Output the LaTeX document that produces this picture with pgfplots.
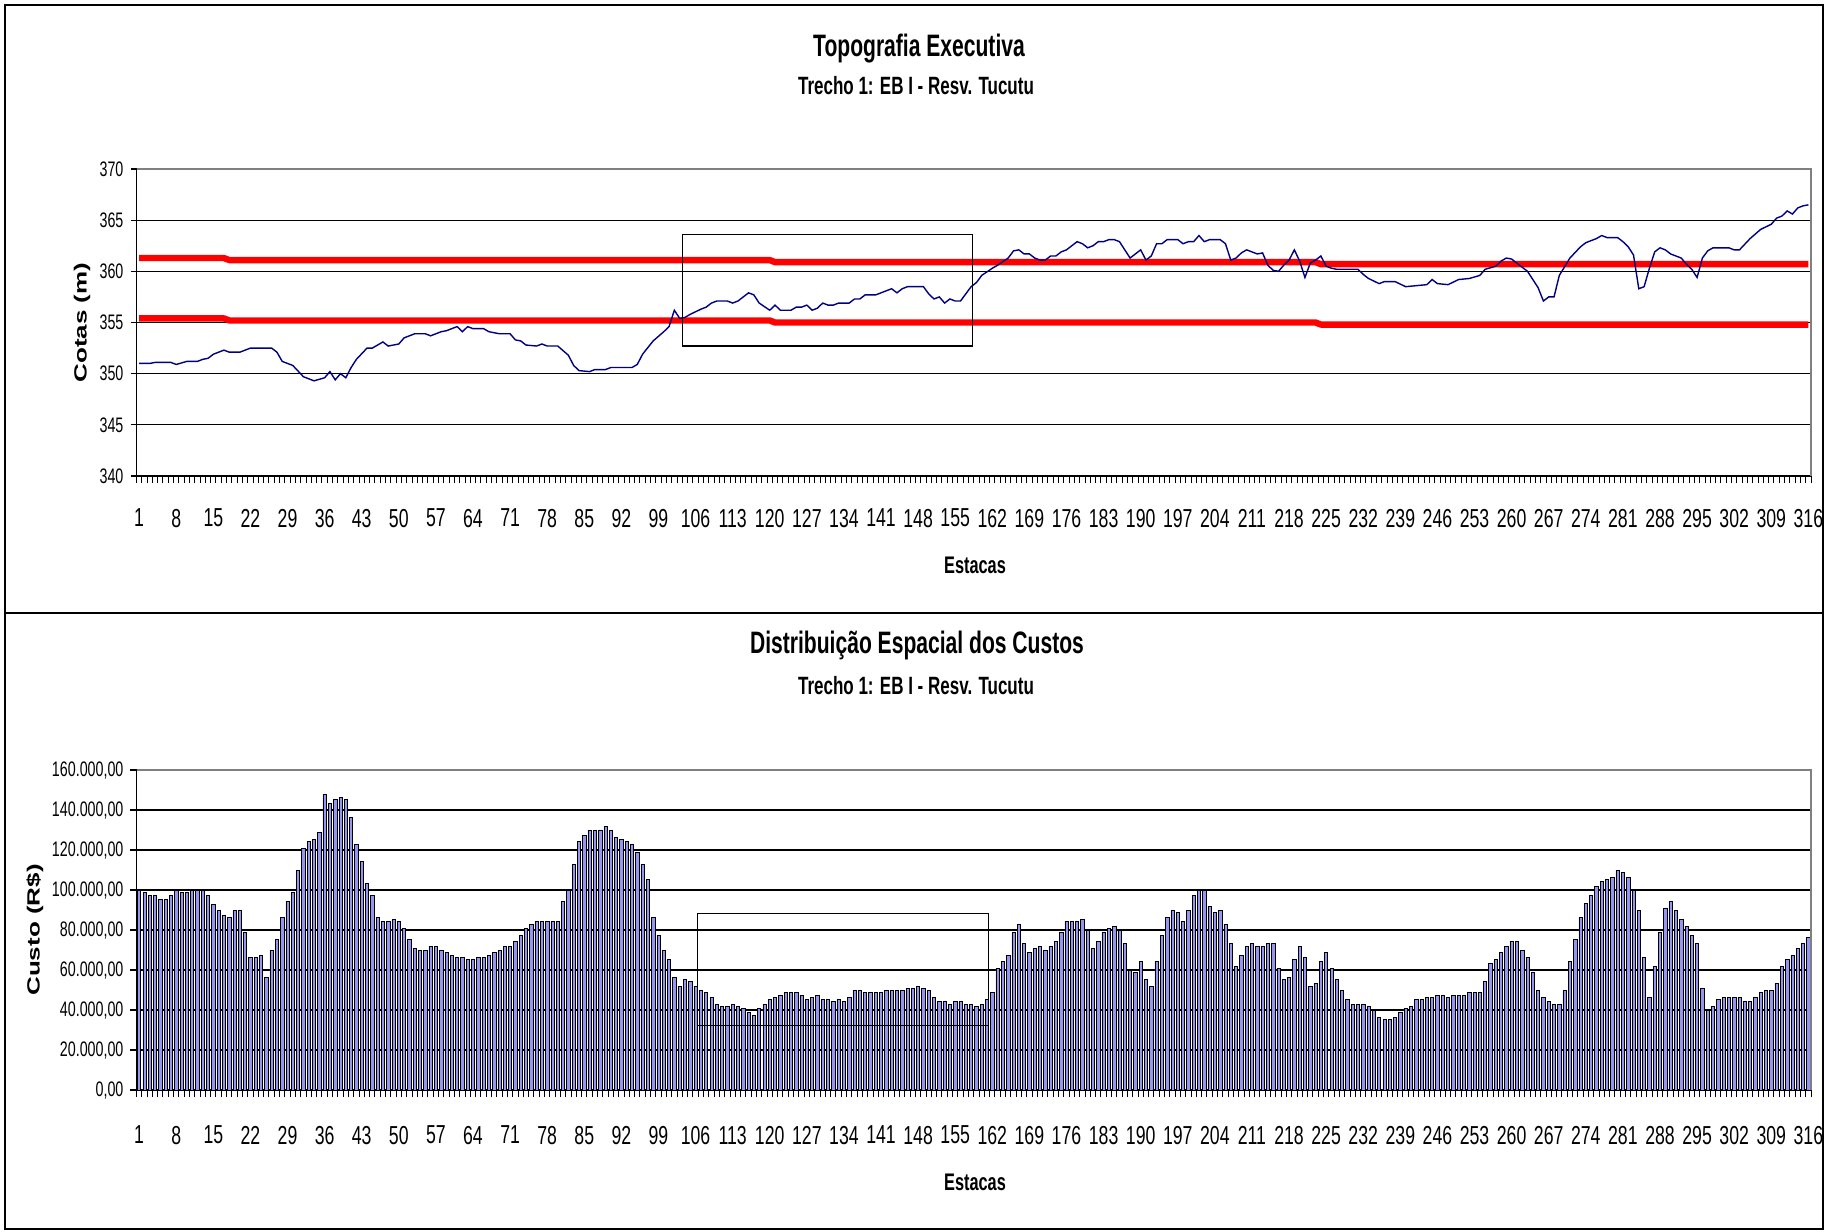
\documentclass[border=0pt]{standalone}
\usepackage{fontspec}
\setmainfont{Liberation Sans}[FakeStretch=0.68]
\newfontfamily\plainfont{Liberation Sans}
\usepackage{graphicx}
\usepackage{pgfplots}
\pgfplotsset{compat=1.18}
\definecolor{navyline}{RGB}{0,0,128}
\definecolor{barblue}{RGB}{150,150,240}
\definecolor{bordergray}{RGB}{128,128,128}
\pgfplotsset{
  chartbase/.style={
    scale only axis,
    width=837.25pt,
    xmin=0.5, xmax=316.5,
    axis lines*=left,
    axis line style={-, black, line width=0.7pt},
    tick align=outside,
    xtick={1,8,15,22,29,36,43,50,57,64,71,78,85,92,99,106,113,120,127,134,141,148,155,162,169,176,183,190,197,204,211,218,225,232,239,246,253,260,267,274,281,288,295,302,309,316},
    xticklabels={1,8,15,22,29,36,43,50,57,64,71,78,85,92,99,106,113,120,127,134,141,148,155,162,169,176,183,190,197,204,211,218,225,232,239,246,253,260,267,274,281,288,295,302,309,316},
    minor xtick={0.5,1.5,...,316.5},
    major x tick style={draw=none},
    minor x tick style={black, line width=0.5pt},
    minor tick length=3.5pt,
    major tick length=3pt,
    ytick style={black, line width=0.6pt},
    xticklabel style={font=\fontsize{13}{13}\selectfont, yshift=-10pt},
    yticklabel style={font=\fontsize{10.5}{10.5}\selectfont},
    ymajorgrids,
    grid style={black, line width=0.6pt},
    scaled y ticks=false,
    clip=false,
  }
}
\begin{document}
\begin{tikzpicture}
\useasboundingbox (0pt,0pt) rectangle (914.5pt,-615.5pt);
\draw[line width=0.8pt] (2.5pt,-2.5pt) rectangle (911.5pt,-306.5pt);
\draw[line width=0.8pt] (2.5pt,-306.5pt) rectangle (911.5pt,-614.5pt);

\node[font=\bfseries\fontsize{15.5}{16}\selectfont] at (459.5pt,-24.5pt) {Topografia Executiva};
\node[font=\bfseries\fontsize{12.5}{13}\selectfont] at (458pt,-43pt) {Trecho 1: EB I - Resv. Tucutu};
\node[font=\bfseries\fontsize{12}{12}\selectfont] at (487.5pt,-282.5pt) {Estacas};
\node[rotate=90] at (41pt,-161.25pt) {\scalebox{1}[0.68]{\plainfont\bfseries\fontsize{13}{13}\selectfont Cotas (m)}};

\node[font=\bfseries\fontsize{15.5}{16}\selectfont] at (458.5pt,-322.5pt) {Distribuição Espacial dos Custos};
\node[font=\bfseries\fontsize{12.5}{13}\selectfont] at (458pt,-343pt) {Trecho 1: EB I - Resv. Tucutu};
\node[font=\bfseries\fontsize{12}{12}\selectfont] at (487.5pt,-591pt) {Estacas};
\node[rotate=90] at (17.5pt,-465pt) {\scalebox{1}[0.68]{\plainfont\bfseries\fontsize{13}{13}\selectfont Custo (R\$)}};

\begin{axis}[chartbase,
  at={(68.25pt,-238pt)}, anchor=south west,
  height=153.5pt,
  ymin=340, ymax=370,
  ytick={340,345,350,355,360,365,370},
  yticklabels={340,345,350,355,360,365,370},
]
\addplot[red, line width=3.2pt, line join=round] coordinates {
(1,361.3) (17,361.3) (18,361.1) (120,361.1) (121,360.9) (223,360.9) (224,360.7) (316,360.7)};
\addplot[red, line width=3.2pt, line join=round] coordinates {
(1,355.4) (17,355.4) (18,355.2) (120,355.2) (121,355.0) (223,355.0) (224,354.8) (316,354.8)};
\addplot[navyline, line width=0.7pt, mark=none] coordinates {
(1,351.0) (3,351.0) (4,351.1) (7,351.1) (8,350.9) (10,351.2) (12,351.2) (13,351.4) (14,351.5)
(15,351.9) (17,352.3) (18,352.1) (20,352.1) (22,352.5) (26,352.5) (27,352.1) (28,351.2)
(30,350.8) (32,349.7) (34,349.3) (36,349.6) (37,350.2) (38,349.4) (39,350.0) (40,349.6)
(41,350.6) (42,351.4) (44,352.5) (45,352.5) (47,353.1) (48,352.7) (50,352.9) (51,353.5)
(53,353.9) (55,353.9) (56,353.7) (58,354.1) (59,354.2) (61,354.6) (62,354.1) (63,354.6)
(64,354.4) (66,354.4) (67,354.1) (69,353.9) (71,353.9) (72,353.3) (73,353.2) (74,352.8)
(76,352.7) (77,352.9) (78,352.7) (80,352.7) (82,351.8) (83,350.8) (84,350.3) (86,350.2)
(87,350.4) (89,350.4) (90,350.6) (94,350.6) (95,350.9) (96,351.9) (98,353.2) (100,354.1)
(101,354.6) (102,356.2) (103,355.4) (104,355.5) (105,355.8) (107,356.3) (108,356.5)
(109,356.9) (110,357.1) (112,357.1) (113,356.9) (114,357.1) (116,357.9) (117,357.7)
(118,356.9) (120,356.2) (121,356.7) (122,356.2) (124,356.2) (125,356.5) (126,356.5)
(127,356.7) (128,356.2) (129,356.4) (130,356.9) (131,356.7) (132,356.7) (133,356.9)
(135,356.9) (136,357.3) (137,357.3) (138,357.7) (140,357.7) (142,358.1) (143,358.3)
(144,357.9) (145,358.3) (146,358.5) (149,358.5) (150,357.8) (151,357.3) (152,357.5)
(153,356.9) (154,357.3) (155,357.1) (156,357.1) (157,357.8) (158,358.5) (159,358.9)
(160,359.6) (162,360.3) (163,360.6) (165,361.3) (166,362.0) (167,362.1) (168,361.7)
(169,361.7) (170,361.3) (171,361.1) (172,361.1) (173,361.5) (174,361.5) (175,361.9)
(176,362.1) (178,362.9) (179,362.7) (180,362.3) (181,362.5) (182,362.9) (183,362.9)
(184,363.1) (185,363.1) (186,362.9) (188,361.3) (190,362.1) (191,361.1) (192,361.5)
(193,362.7) (194,362.7) (195,363.1) (197,363.1) (198,362.7) (199,362.9) (200,362.9)
(201,363.5) (202,362.9) (203,363.1) (205,363.1) (206,362.7) (207,361.1) (208,361.3)
(209,361.8) (210,362.1) (211,361.9) (212,361.7) (213,361.8) (214,360.6) (215,360.1)
(216,360.0) (217,360.6) (218,361.1) (219,362.1) (220,361.0) (221,359.4) (222,360.8)
(223,361.1) (224,361.5) (225,360.5) (226,360.3) (227,360.2) (231,360.2) (232,359.7)
(233,359.3) (235,358.8) (236,359.0) (238,359.0) (240,358.5) (242,358.6) (244,358.7)
(245,359.2) (246,358.8) (248,358.7) (250,359.2) (252,359.3) (254,359.6) (255,360.2)
(257,360.5) (258,361.0) (259,361.3) (260,361.2) (262,360.4) (263,360.0) (265,358.4)
(266,357.1) (267,357.5) (268,357.5) (269,359.6) (271,361.3) (273,362.4) (274,362.8)
(276,363.2) (277,363.5) (278,363.3) (280,363.3) (281,362.9) (282,362.4) (283,361.6)
(284,358.3) (285,358.5) (286,360.3) (287,361.9) (288,362.3) (289,362.1) (290,361.7)
(292,361.3) (293,360.7) (294,360.2) (295,359.4) (296,361.3) (297,362.0) (298,362.3)
(301,362.3) (302,362.1) (303,362.1) (305,363.2) (307,364.1) (309,364.6) (310,365.2)
(311,365.4) (312,365.9) (313,365.6) (314,366.2) (315,366.4) (316,366.5)};
\draw[black, line width=0.7pt] (axis cs:103.5,363.6) rectangle (axis cs:158.3,352.7);
\draw[bordergray, line width=0.8pt] (rel axis cs:0,1) -- (rel axis cs:1,1) -- (rel axis cs:1,0);
\end{axis}

\begin{axis}[chartbase,
  at={(68.25pt,-545pt)}, anchor=south west,
  height=160pt,
  ymin=0, ymax=160000,
  ytick={0,20000,40000,60000,80000,100000,120000,140000,160000},
  yticklabels={{0,00},{20.000,00},{40.000,00},{60.000,00},{80.000,00},{100.000,00},{120.000,00},{140.000,00},{160.000,00}},
  xticklabel style={yshift=-1.5pt},
]
\addplot[ybar, bar width=0.62, fill=barblue, draw=black, line width=0.3pt] coordinates {
(1,99800) (2,98700) (3,97500) (4,97500) (5,95300) (6,95300) (7,97500) (8,99800) (9,98700) (10,98700)
(11,99800) (12,99800) (13,99800) (14,97500) (15,93000) (16,89700) (17,87500) (18,86500) (19,89700) (20,89700)
(21,78700) (22,66300) (23,66300) (24,67500) (25,56500) (26,69800) (27,75300) (28,86500) (29,94200) (30,98700)
(31,109800) (32,120800) (33,124300) (34,125300) (35,128700) (36,147700) (37,143200) (38,145300) (39,146300) (40,145300)
(41,136500) (42,123000) (43,114200) (44,103200) (45,97500) (46,86500) (47,84200) (48,84200) (49,85300) (50,84200)
(51,80800) (52,75300) (53,70800) (54,69800) (55,69800) (56,72000) (57,72000) (58,69800) (59,68700) (60,67500)
(61,66300) (62,66300) (63,65300) (64,65300) (65,66300) (66,66300) (67,67500) (68,68700) (69,69800) (70,72000)
(71,72000) (72,74200) (73,77500) (74,80800) (75,83000) (76,84200) (77,84200) (78,84200) (79,84200) (80,84200)
(81,94200) (82,99800) (83,113000) (84,124200) (85,127500) (86,129800) (87,129800) (88,129800) (89,132000) (90,129800)
(91,126500) (92,125300) (93,124200) (94,123000) (95,118700) (96,113000) (97,105300) (98,86500) (99,77500) (100,69800)
(101,65300) (102,56500) (103,52000) (104,55300) (105,54200) (106,52000) (107,49800) (108,48700) (109,46300) (110,43000)
(111,42000) (112,42000) (113,43000) (114,42000) (115,40800) (116,38700) (117,37500) (118,40800) (119,43000) (120,45300)
(121,46300) (122,47500) (123,48700) (124,48700) (125,48700) (126,47500) (127,45300) (128,46300) (129,47500) (130,45300)
(131,45300) (132,44200) (133,45300) (134,44200) (135,46300) (136,49800) (137,49800) (138,48700) (139,48700) (140,48700)
(141,48700) (142,49800) (143,49800) (144,49800) (145,49800) (146,50800) (147,50800) (148,52000) (149,50800) (150,49800)
(151,46300) (152,44200) (153,44200) (154,43000) (155,44200) (156,44200) (157,43000) (158,43000) (159,42000) (160,43000)
(161,45300) (162,48700) (163,60800) (164,64200) (165,67500) (166,78700) (167,83000) (168,73200) (169,68700) (170,70800)
(171,72000) (172,69800) (173,72000) (174,74200) (175,78700) (176,84200) (177,84200) (178,84200) (179,85300) (180,79700)
(181,70800) (182,74200) (183,78700) (184,80800) (185,82000) (186,79700) (187,73200) (188,59800) (189,58700) (190,64200)
(191,55300) (192,52000) (193,64200) (194,77500) (195,86500) (196,89700) (197,88700) (198,84200) (199,89700) (200,97500)
(201,99800) (202,99800) (203,92000) (204,88700) (205,89700) (206,83000) (207,73200) (208,62000) (209,67500) (210,72000)
(211,73200) (212,72000) (213,72000) (214,73200) (215,73200) (216,60800) (217,55300) (218,56500) (219,65300) (220,72000)
(221,66500) (222,52000) (223,53200) (224,64200) (225,68700) (226,60800) (227,55300) (228,49800) (229,45300) (230,43000)
(231,43000) (232,43000) (233,42000) (234,40000) (235,36500) (236,35300) (237,35300) (238,36500) (239,38700) (240,40800)
(241,42000) (242,45300) (243,45300) (244,46300) (245,46300) (246,47500) (247,47500) (248,46300) (249,47500) (250,47500)
(251,47500) (252,48700) (253,48700) (254,48700) (255,54200) (256,63200) (257,65300) (258,68700) (259,72000) (260,74200)
(261,74200) (262,69800) (263,66500) (264,58700) (265,49800) (266,46300) (267,44200) (268,43000) (269,43000) (270,49800)
(271,64200) (272,75300) (273,86500) (274,93200) (275,97500) (276,102000) (277,104200) (278,105300) (279,106300) (280,109800)
(281,108700) (282,106300) (283,99800) (284,89700) (285,66500) (286,46300) (287,62000) (288,78700) (289,90800) (290,94200)
(291,89700) (292,85300) (293,82000) (294,77500) (295,73200) (296,50800) (297,40000) (298,42000) (299,45300) (300,46300)
(301,46300) (302,46300) (303,46300) (304,44200) (305,44200) (306,46300) (307,48700) (308,49800) (309,49800) (310,53200)
(311,62000) (312,65300) (313,67500) (314,70800) (315,73200) (316,76500)};
\draw[black, line width=0.8pt] (axis cs:106.4,88300) rectangle (axis cs:161.3,32300);
\draw[bordergray, line width=0.8pt] (rel axis cs:0,1) -- (rel axis cs:1,1) -- (rel axis cs:1,0);
\end{axis}
\end{tikzpicture}
\end{document}
